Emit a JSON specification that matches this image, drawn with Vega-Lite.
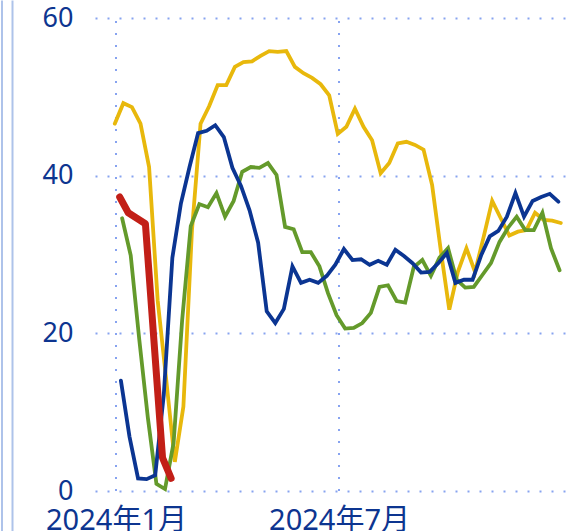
{
  "$schema": "https://vega.github.io/schema/vega-lite/v6.json",
  "width": 472,
  "height": 531,
  "autosize": {"type": "none"},
  "padding": {"left": 95, "top": 0, "right": 0, "bottom": 0},
  "background": "white",
  "config": {"view": {"stroke": null}},
  "datasets": {
    "grid": [{"date": "2024-01-01T00:00:00"}, {"date": "2024-07-01T00:00:00"}],
    "yellow": [
      {"date": "2023-12-31T00:00:00", "value": 46.6},
      {"date": "2024-01-07T00:00:00", "value": 49.2},
      {"date": "2024-01-14T00:00:00", "value": 48.7},
      {"date": "2024-01-21T00:00:00", "value": 46.6},
      {"date": "2024-01-28T00:00:00", "value": 41.1},
      {"date": "2024-02-04T00:00:00", "value": 24.2},
      {"date": "2024-02-11T00:00:00", "value": 14.1},
      {"date": "2024-02-18T00:00:00", "value": 3.7},
      {"date": "2024-02-25T00:00:00", "value": 10.7},
      {"date": "2024-03-03T00:00:00", "value": 33.1},
      {"date": "2024-03-10T00:00:00", "value": 46.6},
      {"date": "2024-03-17T00:00:00", "value": 48.8},
      {"date": "2024-03-24T00:00:00", "value": 51.5},
      {"date": "2024-03-31T00:00:00", "value": 51.5},
      {"date": "2024-04-07T00:00:00", "value": 53.8},
      {"date": "2024-04-14T00:00:00", "value": 54.4},
      {"date": "2024-04-21T00:00:00", "value": 54.5},
      {"date": "2024-04-28T00:00:00", "value": 55.2},
      {"date": "2024-05-05T00:00:00", "value": 55.8},
      {"date": "2024-05-12T00:00:00", "value": 55.7},
      {"date": "2024-05-19T00:00:00", "value": 55.8},
      {"date": "2024-05-26T00:00:00", "value": 53.8},
      {"date": "2024-06-02T00:00:00", "value": 53.0},
      {"date": "2024-06-09T00:00:00", "value": 52.4},
      {"date": "2024-06-16T00:00:00", "value": 51.6},
      {"date": "2024-06-23T00:00:00", "value": 50.2},
      {"date": "2024-06-30T00:00:00", "value": 45.3},
      {"date": "2024-07-07T00:00:00", "value": 46.2},
      {"date": "2024-07-14T00:00:00", "value": 48.5},
      {"date": "2024-07-21T00:00:00", "value": 46.2},
      {"date": "2024-07-28T00:00:00", "value": 44.5},
      {"date": "2024-08-04T00:00:00", "value": 40.3},
      {"date": "2024-08-11T00:00:00", "value": 41.6},
      {"date": "2024-08-18T00:00:00", "value": 44.1},
      {"date": "2024-08-25T00:00:00", "value": 44.3},
      {"date": "2024-09-01T00:00:00", "value": 43.9},
      {"date": "2024-09-08T00:00:00", "value": 43.3},
      {"date": "2024-09-15T00:00:00", "value": 38.8},
      {"date": "2024-09-22T00:00:00", "value": 30.6},
      {"date": "2024-09-29T00:00:00", "value": 23.0},
      {"date": "2024-10-06T00:00:00", "value": 27.8},
      {"date": "2024-10-13T00:00:00", "value": 30.8},
      {"date": "2024-10-20T00:00:00", "value": 27.8},
      {"date": "2024-10-27T00:00:00", "value": 32.2},
      {"date": "2024-11-03T00:00:00", "value": 36.8},
      {"date": "2024-11-10T00:00:00", "value": 34.6},
      {"date": "2024-11-17T00:00:00", "value": 32.4},
      {"date": "2024-11-24T00:00:00", "value": 32.9},
      {"date": "2024-12-01T00:00:00", "value": 33.1},
      {"date": "2024-12-08T00:00:00", "value": 35.3},
      {"date": "2024-12-15T00:00:00", "value": 34.4},
      {"date": "2024-12-22T00:00:00", "value": 34.3},
      {"date": "2024-12-29T00:00:00", "value": 34.0}
    ],
    "green": [
      {"date": "2024-01-06T00:00:00", "value": 34.6},
      {"date": "2024-01-13T00:00:00", "value": 29.9},
      {"date": "2024-01-20T00:00:00", "value": 19.2},
      {"date": "2024-01-27T00:00:00", "value": 9.3},
      {"date": "2024-02-03T00:00:00", "value": 0.9},
      {"date": "2024-02-10T00:00:00", "value": 0.25},
      {"date": "2024-02-17T00:00:00", "value": 6.1},
      {"date": "2024-02-24T00:00:00", "value": 21.7},
      {"date": "2024-03-02T00:00:00", "value": 33.6},
      {"date": "2024-03-09T00:00:00", "value": 36.4},
      {"date": "2024-03-16T00:00:00", "value": 36.0},
      {"date": "2024-03-23T00:00:00", "value": 37.8},
      {"date": "2024-03-30T00:00:00", "value": 34.8},
      {"date": "2024-04-06T00:00:00", "value": 36.8},
      {"date": "2024-04-13T00:00:00", "value": 40.5},
      {"date": "2024-04-20T00:00:00", "value": 41.1},
      {"date": "2024-04-27T00:00:00", "value": 41.0},
      {"date": "2024-05-04T00:00:00", "value": 41.6},
      {"date": "2024-05-11T00:00:00", "value": 40.1},
      {"date": "2024-05-18T00:00:00", "value": 33.5},
      {"date": "2024-05-25T00:00:00", "value": 33.2},
      {"date": "2024-06-01T00:00:00", "value": 30.3},
      {"date": "2024-06-08T00:00:00", "value": 30.3},
      {"date": "2024-06-15T00:00:00", "value": 28.5},
      {"date": "2024-06-22T00:00:00", "value": 25.1},
      {"date": "2024-06-29T00:00:00", "value": 22.3},
      {"date": "2024-07-06T00:00:00", "value": 20.6},
      {"date": "2024-07-13T00:00:00", "value": 20.7},
      {"date": "2024-07-20T00:00:00", "value": 21.3},
      {"date": "2024-07-27T00:00:00", "value": 22.6},
      {"date": "2024-08-03T00:00:00", "value": 25.9},
      {"date": "2024-08-10T00:00:00", "value": 26.1},
      {"date": "2024-08-17T00:00:00", "value": 24.1},
      {"date": "2024-08-24T00:00:00", "value": 23.9},
      {"date": "2024-08-31T00:00:00", "value": 28.4},
      {"date": "2024-09-07T00:00:00", "value": 29.3},
      {"date": "2024-09-14T00:00:00", "value": 27.3},
      {"date": "2024-09-21T00:00:00", "value": 29.6},
      {"date": "2024-09-28T00:00:00", "value": 30.8},
      {"date": "2024-10-05T00:00:00", "value": 26.8},
      {"date": "2024-10-12T00:00:00", "value": 25.8},
      {"date": "2024-10-19T00:00:00", "value": 25.9},
      {"date": "2024-10-26T00:00:00", "value": 27.4},
      {"date": "2024-11-02T00:00:00", "value": 28.9},
      {"date": "2024-11-09T00:00:00", "value": 31.6},
      {"date": "2024-11-16T00:00:00", "value": 33.4},
      {"date": "2024-11-23T00:00:00", "value": 34.8},
      {"date": "2024-11-30T00:00:00", "value": 33.1},
      {"date": "2024-12-07T00:00:00", "value": 33.1},
      {"date": "2024-12-14T00:00:00", "value": 35.3},
      {"date": "2024-12-21T00:00:00", "value": 30.8},
      {"date": "2024-12-28T00:00:00", "value": 28.0}
    ],
    "blue": [
      {"date": "2024-01-05T00:00:00", "value": 14.0},
      {"date": "2024-01-12T00:00:00", "value": 6.9},
      {"date": "2024-01-19T00:00:00", "value": 1.6},
      {"date": "2024-01-26T00:00:00", "value": 1.5},
      {"date": "2024-02-02T00:00:00", "value": 2.0},
      {"date": "2024-02-09T00:00:00", "value": 12.2},
      {"date": "2024-02-16T00:00:00", "value": 29.6},
      {"date": "2024-02-23T00:00:00", "value": 36.5},
      {"date": "2024-03-01T00:00:00", "value": 41.1},
      {"date": "2024-03-08T00:00:00", "value": 45.4},
      {"date": "2024-03-15T00:00:00", "value": 45.7},
      {"date": "2024-03-22T00:00:00", "value": 46.4},
      {"date": "2024-03-29T00:00:00", "value": 44.9},
      {"date": "2024-04-05T00:00:00", "value": 41.0},
      {"date": "2024-04-12T00:00:00", "value": 38.7},
      {"date": "2024-04-19T00:00:00", "value": 35.6},
      {"date": "2024-04-26T00:00:00", "value": 31.5},
      {"date": "2024-05-03T00:00:00", "value": 22.8},
      {"date": "2024-05-10T00:00:00", "value": 21.3},
      {"date": "2024-05-17T00:00:00", "value": 23.1},
      {"date": "2024-05-24T00:00:00", "value": 28.5},
      {"date": "2024-05-31T00:00:00", "value": 26.4},
      {"date": "2024-06-07T00:00:00", "value": 26.8},
      {"date": "2024-06-14T00:00:00", "value": 26.4},
      {"date": "2024-06-21T00:00:00", "value": 27.3},
      {"date": "2024-06-28T00:00:00", "value": 28.7},
      {"date": "2024-07-05T00:00:00", "value": 30.7},
      {"date": "2024-07-12T00:00:00", "value": 29.3},
      {"date": "2024-07-19T00:00:00", "value": 29.4},
      {"date": "2024-07-26T00:00:00", "value": 28.7},
      {"date": "2024-08-02T00:00:00", "value": 29.2},
      {"date": "2024-08-09T00:00:00", "value": 28.7},
      {"date": "2024-08-16T00:00:00", "value": 30.6},
      {"date": "2024-08-23T00:00:00", "value": 29.8},
      {"date": "2024-08-30T00:00:00", "value": 28.9},
      {"date": "2024-09-06T00:00:00", "value": 27.7},
      {"date": "2024-09-13T00:00:00", "value": 27.8},
      {"date": "2024-09-20T00:00:00", "value": 28.9},
      {"date": "2024-09-27T00:00:00", "value": 30.2},
      {"date": "2024-10-04T00:00:00", "value": 26.4},
      {"date": "2024-10-11T00:00:00", "value": 26.8},
      {"date": "2024-10-18T00:00:00", "value": 26.8},
      {"date": "2024-10-25T00:00:00", "value": 29.9},
      {"date": "2024-11-01T00:00:00", "value": 32.3},
      {"date": "2024-11-08T00:00:00", "value": 33.0},
      {"date": "2024-11-15T00:00:00", "value": 34.8},
      {"date": "2024-11-22T00:00:00", "value": 37.8},
      {"date": "2024-11-29T00:00:00", "value": 34.8},
      {"date": "2024-12-06T00:00:00", "value": 36.8},
      {"date": "2024-12-13T00:00:00", "value": 37.3},
      {"date": "2024-12-20T00:00:00", "value": 37.7},
      {"date": "2024-12-27T00:00:00", "value": 36.7}
    ],
    "red": [
      {"date": "2024-01-04T00:00:00", "value": 37.3},
      {"date": "2024-01-11T00:00:00", "value": 35.3},
      {"date": "2024-01-18T00:00:00", "value": 34.6},
      {"date": "2024-01-25T00:00:00", "value": 33.9},
      {"date": "2024-02-01T00:00:00", "value": 19.0},
      {"date": "2024-02-08T00:00:00", "value": 4.2},
      {"date": "2024-02-15T00:00:00", "value": 1.6}
    ]
  },
  "resolve": {"scale": {"y": "independent"}},
  "layer": [
    {
      "encoding": {
        "x": {
          "field": "date",
          "type": "temporal",
          "scale": {
            "domain": [
              {"year": 2023, "month": 12, "date": 14, "hours": 20, "minutes": 38},
              {"year": 2025, "month": 1, "date": 3, "hours": 1, "minutes": 40}
            ]
          },
          "axis": {
            "title": null,
            "values": [
              {"year": 2024, "month": 1, "date": 1},
              {"year": 2024, "month": 7, "date": 1}
            ],
            "format": "%Y年%-m月",
            "labelFont": "Noto Sans, Noto Sans CJK SC",
            "labelFontSize": 29,
            "labelColor": "#0d3590",
            "labelFlush": false,
            "labelPadding": 15,
            "offset": -40,
            "domain": false,
            "ticks": false,
            "tickSize": 0,
            "grid": false
          }
        }
      },
      "layer": [
        {
          "data": {"name": "grid"},
          "mark": {"type": "rule", "color": "#87a3f0", "strokeWidth": 2, "strokeDash": [2, 10]},
          "encoding": {
            "y": {
              "datum": 0,
              "type": "quantitative",
              "scale": {"domain": [-5.074, 62.286], "nice": false, "zero": false},
              "axis": {
                "title": null,
                "values": [0, 20, 40, 60],
                "offset": 83,
                "domain": true,
                "domainColor": "#aec3ea",
                "domainWidth": 2,
                "ticks": false,
                "tickSize": 0,
                "labelPadding": -61,
                "labelFont": "Noto Sans",
                "labelFontSize": 27,
                "labelColor": "#0d3590",
                "grid": true,
                "gridColor": "#87a3f0",
                "gridWidth": 2,
                "gridDash": [2, 10]
              }
            },
            "y2": {"datum": 60}
          }
        },
        {
          "data": {"name": "yellow"},
          "mark": {"type": "line", "color": "#e8b80c", "strokeWidth": 3.8, "strokeCap": "round"},
          "encoding": {"y": {"field": "value", "type": "quantitative"}}
        },
        {
          "data": {"name": "green"},
          "mark": {"type": "line", "color": "#649a2b", "strokeWidth": 3.8, "strokeCap": "round"},
          "encoding": {"y": {"field": "value", "type": "quantitative"}}
        },
        {
          "data": {"name": "blue"},
          "mark": {"type": "line", "color": "#0b3592", "strokeWidth": 3.8, "strokeCap": "round"},
          "encoding": {"y": {"field": "value", "type": "quantitative"}}
        },
        {
          "data": {"name": "red"},
          "mark": {"type": "line", "color": "#c21f17", "strokeWidth": 7, "strokeCap": "round", "strokeJoin": "round"},
          "encoding": {"y": {"field": "value", "type": "quantitative"}}
        }
      ]
    },
    {
      "data": {"name": "grid"},
      "mark": {"type": "rule", "strokeOpacity": 0},
      "encoding": {
        "x": {"field": "date", "type": "temporal"},
        "y": {
          "datum": 0,
          "type": "quantitative",
          "scale": {"domain": [-5.074, 62.286], "nice": false, "zero": false},
          "axis": {
            "orient": "left",
            "title": null,
            "offset": 93.5,
            "domain": true,
            "domainColor": "#aec3ea",
            "domainWidth": 2,
            "labels": false,
            "ticks": false,
            "grid": false
          }
        },
        "y2": {"datum": 60}
      }
    }
  ]
}
